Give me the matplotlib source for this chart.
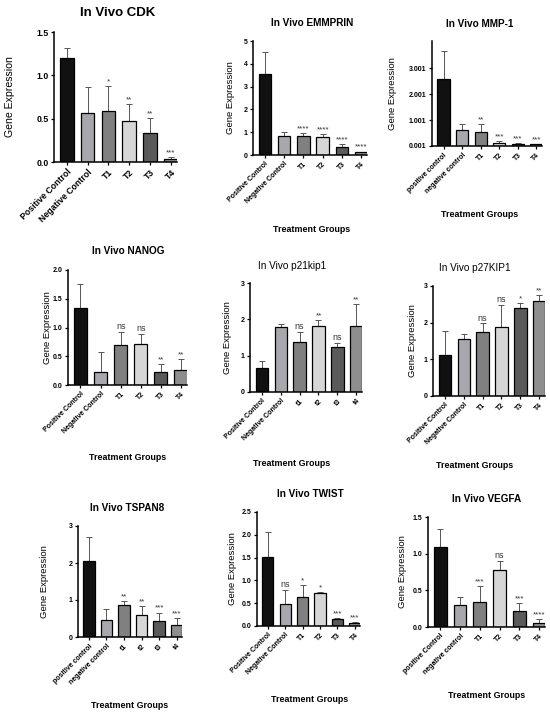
import matplotlib.pyplot as plt
import numpy as np

plt.rcParams['font.family'] = ['Liberation Sans', 'DejaVu Sans']
plt.rcParams['font.weight'] = 'bold'

W, H = 550, 715

# ---- data (mean, upper SD, significance) ----
titles = ["In Vivo CDK", "In Vivo EMMPRIN", "In Vivo MMP-1",
          "In Vivo NANOG", "In Vivo p21kip1", "In Vivo p27KIP1",
          "In Vivo TSPAN8", "In Vivo TWIST", "In Vivo VEGFA"]

groups_upper = ["Positive Control", "Negative Control", "T1", "T2", "T3", "T4"]
groups_lower = ["positive control", "negative control", "T1", "T2", "T3", "T4"]
groups_t_lower = ["Positive Control", "Negative Control", "t1", "t2", "t3", "t4"]
groups_tspan = ["positive control", "negative control", "t1", "t2", "t3", "t4"]
groups_vegfa = ["positive Control", "negative control", "T1", "T2", "T3", "T4"]

cdk_mean = [1.20, 0.565, 0.585, 0.47, 0.34, 0.04]
cdk_err = [0.12, 0.30, 0.295, 0.20, 0.17, 0.02]
cdk_sig = ["", "", "*", "**", "**", "***"]

emmprin_mean = [3.54, 0.85, 0.82, 0.77, 0.34, 0.12]
emmprin_err = [0.98, 0.14, 0.14, 0.16, 0.13, 0.03]
emmprin_sig = ["", "", "****", "****", "****", "****"]

mmp1_mean = [2.571, 0.611, 0.551, 0.131, 0.081, 0.061]
mmp1_err = [1.11, 0.22, 0.28, 0.07, 0.03, 0.03]
mmp1_sig = ["", "", "**", "***", "***", "***"]

nanog_mean = [1.34, 0.23, 0.70, 0.71, 0.22, 0.26]
nanog_err = [0.42, 0.35, 0.22, 0.18, 0.14, 0.19]
nanog_sig = ["", "", "ns", "ns", "**", "**"]

p21_mean = [0.66, 1.78, 1.37, 1.81, 1.23, 1.83]
p21_err = [0.20, 0.09, 0.28, 0.16, 0.12, 0.59]
p21_sig = ["", "", "ns", "**", "ns", "**"]

p27_mean = [1.13, 1.55, 1.75, 1.87, 2.39, 2.59]
p27_err = [0.65, 0.13, 0.23, 0.61, 0.14, 0.16]
p27_sig = ["", "", "ns", "ns", "*", "**"]

tspan8_mean = [2.05, 0.45, 0.86, 0.59, 0.43, 0.32]
tspan8_err = [0.65, 0.30, 0.10, 0.25, 0.23, 0.19]
tspan8_sig = ["", "", "**", "**", "***", "***"]

twist_mean = [1.52, 0.49, 0.64, 0.73, 0.15, 0.07]
twist_err = [0.55, 0.30, 0.26, 0.02, 0.03, 0.02]
twist_sig = ["", "ns", "*", "*", "***", "***"]

vegfa_mean = [1.09, 0.30, 0.34, 0.78, 0.22, 0.06]
vegfa_err = [0.24, 0.11, 0.22, 0.12, 0.11, 0.05]
vegfa_sig = ["", "", "***", "ns", "***", "****"]

yticks_cdk = [0.0, 0.5, 1.0, 1.5]
yticks_emmprin = [0, 1, 2, 3, 4, 5]
yticks_mmp1 = [0.001, 1.001, 2.001, 3.001]
yticks_nanog = [0.0, 0.5, 1.0, 1.5, 2.0]
yticks_0to3 = [0, 1, 2, 3]
yticks_twist = [0.0, 0.5, 1.0, 1.5, 2.0, 2.5]
yticks_vegfa = [0.0, 0.5, 1.0, 1.5]

bar_colors = ["#111111", "#a7a7ad", "#808080", "#d6d6d6", "#5a5a5a", "#8e8e8e"]

panels = [
    (groups_upper, cdk_mean, cdk_err, cdk_sig, yticks_cdk, "%.1f"),
    (groups_upper, emmprin_mean, emmprin_err, emmprin_sig, yticks_emmprin, "%d"),
    (groups_lower, mmp1_mean, mmp1_err, mmp1_sig, yticks_mmp1, "%.3f"),
    (groups_upper, nanog_mean, nanog_err, nanog_sig, yticks_nanog, "%.1f"),
    (groups_t_lower, p21_mean, p21_err, p21_sig, yticks_0to3, "%d"),
    (groups_upper, p27_mean, p27_err, p27_sig, yticks_0to3, "%d"),
    (groups_tspan, tspan8_mean, tspan8_err, tspan8_sig, yticks_0to3, "%d"),
    (groups_upper, twist_mean, twist_err, twist_sig, yticks_twist, "%.1f"),
    (groups_vegfa, vegfa_mean, vegfa_err, vegfa_sig, yticks_vegfa, "%.1f"),
]

# ---- layout in pixels: axes box (l, t, r, b), title centre, xlabel centre, ylabel gap ----
boxes = [(54, 32, 177, 162), (253, 41, 367, 155), (432, 41, 542, 146),
         (68, 270, 187, 385), (250, 283, 362, 392), (433, 286, 545, 396),
         (78, 526, 182, 637), (257, 512, 360, 626), (428, 517, 545, 627)]
ymax = [1.5, 5, 4.05, 2.0, 3, 3, 3, 2.5, 1.5]
ymin = [0, 0, 0.001, 0, 0, 0, 0, 0, 0]
title_pos = [(118, 13), (312, 23), (480, 24), (128, 251), (292, 266),
             (475, 268), (127, 508), (310, 494), (487, 499)]
xlabel_pos = [None, (312, 229), (480, 215), (128, 458), (292, 463),
              (475, 465), (130, 705), (310, 699), (487, 695)]
ylabel_gap = [39, 18, 35, 16, 18, 16, 29, 20, 21]

fig = plt.figure(figsize=(W / 100, H / 100), dpi=100)

for k, (groups, mean, err, sig, yt, fmt) in enumerate(panels):
    l, t, r, b = boxes[k]
    ax = fig.add_axes([l / W, 1 - b / H, (r - l) / W, (b - t) / H])
    big = (k == 0)
    tick_fs = 6.3 if big else 5
    x = np.arange(len(groups))
    ax.bar(x, np.array(mean) - ymin[k], bottom=ymin[k], width=0.65,
           color=bar_colors, edgecolor="black", linewidth=0.9, zorder=2)
    ax.errorbar(x, mean, yerr=[np.zeros(len(err)), err], fmt="none",
                ecolor="#555555", elinewidth=0.7, capsize=2.2, capthick=0.7,
                zorder=1)
    for i, s in enumerate(sig):
        if s:
            ax.annotate(s, (x[i], mean[i] + err[i]), xytext=(0, 0.5),
                        textcoords="offset points", ha="center", va="bottom",
                        fontsize=6.5 if s == "ns" else 5.8,
                        fontweight="normal", color="#333333")
    ax.set_xlim(-0.62, 5.3)
    ax.set_ylim(ymin[k], ymax[k])
    ax.set_yticks(yt)
    ax.set_yticklabels([fmt % v for v in yt], fontsize=tick_fs)
    ax.set_xticks(x)
    ax.set_xticklabels(groups, rotation=45, ha="right",
                       rotation_mode="anchor", fontsize=tick_fs)
    for side in ["top", "right"]:
        ax.spines[side].set_visible(False)
    for side in ["left", "bottom"]:
        ax.spines[side].set_linewidth(1.1)
    ax.tick_params(length=2.5, width=0.9, pad=1.5)
    ax.set_ylabel("Gene Expression", fontsize=7.6 if big else 6.8)
    ax.yaxis.set_label_coords(-ylabel_gap[k] / (r - l), 0.5)
    ax.yaxis.label.set_va("bottom")

    tx, ty = title_pos[k]
    fig.text(tx / W, 1 - ty / H, titles[k], ha="center", va="center",
             fontsize=9.5 if big else 7.2,
             fontweight="normal" if k in (4, 5) else "bold")
    if xlabel_pos[k] is not None:
        lx, ly = xlabel_pos[k]
        fig.text(lx / W, 1 - ly / H, "Treatment Groups", ha="center",
                 va="center", fontsize=6.4)

fig.savefig("out.png", dpi=100)
